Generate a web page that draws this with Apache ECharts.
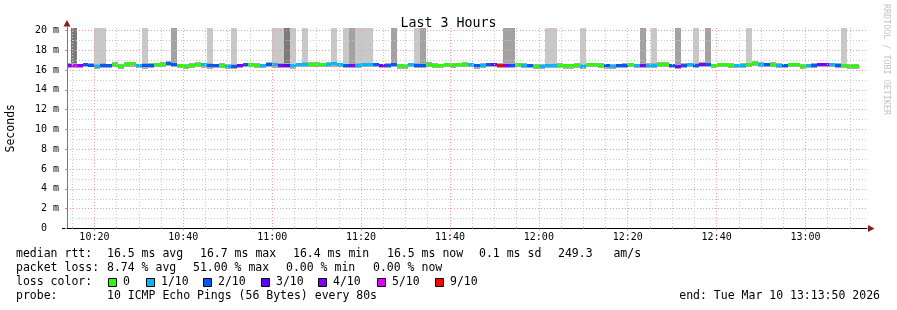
<!DOCTYPE html>
<html><head><meta charset="utf-8">
<script src="https://cdn.jsdelivr.net/npm/echarts@6/dist/echarts.min.js"></script>
<style>html,body{margin:0;padding:0;background:#fff}#c{width:897px;height:310px}</style>
</head><body><div id="c"></div><script>
// time in minutes after 10:00
const xMin = 13 + 50/60, xMax = 193 + 50/60;
const stepStart = 13 + 20/60, stepLen = 80/60;
const majorX = [20,40,60,80,100,120,140,160,180];
const minorX = [15,25,30,35,45,50,55,65,70,75,85,90,95,105,110,115,125,130,135,145,150,155,165,170,175,185,190];
const yMajor = [0,2,4,6,8,10,12,14,16,18,20];
const yMinor = [1,3,5,7,9,11,13,15,17,19];
const yMax = 20.25;

const lossThresh = [0,1,2,3,4,5,9];
const lossColors = ['#26ff00','#00b8ff','#0059ff','#5e00ff','#7e00ff','#dd00ff','#ff0000'];
const lossLabels = ['0','1/10','2/10','3/10','4/10','5/10','9/10'];
const spikeColors = [null,'#c8c8c8','#a2a2a2','#7a7a7a'];

const median = [
16.5,16.5,16.45,16.55,16.5,16.4,16.5,16.45,16.55,16.4,
16.6,16.65,16.45,16.45,16.5,16.55,16.6,16.7,16.6,16.45,
16.4,16.5,16.6,16.55,16.5,16.45,16.5,16.4,16.4,16.45,
16.55,16.55,16.5,16.45,16.6,16.55,16.5,16.5,16.45,16.55,
16.6,16.6,16.6,16.55,16.6,16.62,16.55,16.45,16.45,16.5,
16.55,16.55,16.55,16.45,16.5,16.55,16.45,16.4,16.55,16.5,
16.5,16.6,16.5,16.45,16.55,16.5,16.55,16.6,16.55,16.45,
16.5,16.55,16.55,16.45,16.45,16.5,16.55,16.5,16.45,16.4,
16.4,16.45,16.45,16.5,16.45,16.45,16.5,16.4,16.55,16.55,
16.5,16.45,16.4,16.45,16.5,16.55,16.45,16.5,16.5,16.5,
16.6,16.6,16.45,16.4,16.5,16.55,16.5,16.55,16.6,16.45,
16.55,16.55,16.5,16.45,16.5,16.55,16.7,16.6,16.55,16.6,
16.5,16.45,16.55,16.55,16.4,16.45,16.5,16.55,16.55,16.55,
16.5,16.45,16.4,16.4];
const loss = [
4,5,4,2,2,1,2,2,0,0,
0,0,1,2,2,0,0,2,2,0,
0,0,0,1,2,2,0,1,2,4,
2,0,0,1,2,1,4,3,1,1,
1,0,0,0,1,1,1,2,4,1,
1,1,2,4,2,2,0,0,1,2,
2,0,0,0,0,0,0,0,1,2,
1,2,4,5.1,4,2,0,1,2,0,
1,1,1,0,0,0,0,1,0,0,
0,2,1,2,2,0,1,4,1,1,
0,0,2,4,2,1,2,4,2,0,
0,0,0,1,1,0,0,1,2,0,
1,2,0,0,0,1,2,4,4,1,
2,0,0,0];
const smokeLo = [
16.25,16.2,16.2,16.3,16.3,16.15,16.25,16.2,16.3,16.15,
16.3,16.35,16.2,16.15,16.25,16.3,16.3,16.4,16.3,16.2,
16.15,16.25,16.3,16.25,16.15,16.2,16.25,16.1,16.15,16.2,
16.3,16.3,16.25,16.2,16.3,16.25,16.2,16.2,16.15,16.3,
16.3,16.3,16.35,16.3,16.35,16.3,16.3,16.2,16.2,16.25,
16.3,16.3,16.3,16.2,16.25,16.3,16.15,16.1,16.3,16.2,
16.25,16.35,16.25,16.2,16.3,16.25,16.3,16.3,16.3,16.15,
16.25,16.3,16.3,16.2,16.2,16.25,16.3,16.25,16.2,16.1,
16.15,16.2,16.2,16.25,16.15,16.15,16.25,16.1,16.3,16.3,
16.25,16.15,16.1,16.2,16.2,16.3,16.2,16.25,16.25,16.25,
16.3,16.35,16.2,16.1,16.25,16.3,16.25,16.3,16.35,16.2,
16.3,16.3,16.25,16.2,16.25,16.3,16.45,16.3,16.3,16.35,
16.25,16.2,16.3,16.3,16.1,16.2,16.25,16.3,16.3,16.3,
16.25,16.2,16.15,16.15];
const smokeHi = [
16.7,16.75,16.65,16.75,16.7,16.6,16.7,16.65,16.8,16.6,
16.8,16.85,16.65,16.7,16.7,16.75,16.8,16.9,16.8,16.65,
16.6,16.75,16.8,16.75,16.75,16.65,16.7,16.6,16.65,16.65,
16.75,16.75,16.7,16.65,16.8,16.75,16.7,16.75,16.65,16.75,
16.8,16.8,16.8,16.75,16.8,16.85,16.75,16.65,16.7,16.7,
16.75,16.75,16.75,16.65,16.7,16.8,16.65,16.6,16.75,16.7,
16.75,16.8,16.7,16.65,16.75,16.7,16.75,16.8,16.75,16.65,
16.7,16.75,16.75,16.7,16.7,16.7,16.75,16.7,16.65,16.6,
16.6,16.65,16.65,16.7,16.65,16.65,16.7,16.6,16.75,16.75,
16.7,16.65,16.6,16.65,16.7,16.75,16.65,16.75,16.7,16.7,
16.8,16.8,16.65,16.65,16.7,16.75,16.7,16.8,16.8,16.65,
16.75,16.75,16.7,16.65,16.7,16.75,16.9,16.8,16.75,16.8,
16.7,16.65,16.75,16.75,16.6,16.65,16.7,16.75,16.75,16.75,
16.7,16.65,16.6,16.6];
const spike = [
0,3,0,0,0,1,1,0,0,0,
0,0,0,1,0,0,0,0,2,0,
0,0,0,0,1,0,0,0,1,0,
0,0,0,0,0,1,1,3,1,0,
1,0,0,0,0,1,0,1,2,1,
1,1,0,0,0,2,0,0,0,1,
2,0,0,0,0,0,0,0,0,0,
0,0,0,0,2,2,0,0,0,0,
0,1,1,0,0,0,0,1,0,0,
0,0,0,0,0,0,0,2,0,1,
0,0,0,2,0,0,1,0,2,0,
0,0,0,0,0,1,0,0,0,0,
0,0,0,0,0,0,0,0,0,0,
0,1,0,0];

const statLines = [
  [[16,'median rtt:'],[107,'16.5 ms avg'],[200,'16.7 ms max'],[293,'16.4 ms min'],[387,'16.5 ms now'],[479,'0.1 ms sd'],[558,'249.3   am/s']],
  [[16,'packet loss:'],[107,'8.74 % avg'],[193,'51.00 % max'],[286,'0.00 % min'],[373,'0.00 % now']]
];
const lossLegendX = [108,146,203,261,318,377,435];
const probeText = '10 ICMP Echo Pings (56 Bytes) every 80s';
const endText = 'end: Tue Mar 10 13:13:50 2026';
const MONO = "'DejaVu Sans Mono', monospace";

function lossColor(l){ for (let k=0;k<lossThresh.length;k++){ if (l<=lossThresh[k]) return lossColors[k]; } return lossColors[lossColors.length-1]; }
function stepData(i){ return [Math.max(stepStart+i*stepLen, xMin), stepStart+(i+1)*stepLen]; }

const smokeData = [], medData = [], spikeData = [];
for (let i=0;i<median.length;i++){
  const [a,b] = stepData(i);
  smokeData.push([a,b,smokeLo[i],smokeHi[i]]);
  medData.push([a,b,median[i]-0.15,median[i]+0.15,loss[i]]);
  if (spike[i]) spikeData.push([a,b,smokeHi[i]-0.1,yMax,spike[i]]);
}
function rectRender(colorFn){
  return function(params, api){
    const p0 = api.coord([api.value(0), api.value(3)]);
    const p1 = api.coord([api.value(1), api.value(2)]);
    const x0 = Math.round(p0[0]), x1 = Math.round(p1[0]);
    const y0 = Math.round(p0[1]), y1 = Math.round(p1[1]);
    return {type:'rect', shape:{x:x0,y:y0,width:x1-x0,height:y1-y0}, style:{fill:colorFn(api)}};
  };
}
function fmtTime(v){ const h = 10+Math.floor(v/60); const m = Math.round(v%60); return h+':'+String(m).padStart(2,'0'); }

const dotted = [1,2];
const graphics = [];
statLines.forEach((line,li)=>{ line.forEach(([x,t])=>graphics.push({type:'text',x:x,y:254+li*14,style:{text:t,font:'11.5px '+MONO,fill:'#000',verticalAlign:'middle',textVerticalAlign:'middle'}})); });
graphics.push({type:'text',x:16,y:282,style:{text:'loss color:',font:'11.5px '+MONO,fill:'#000',verticalAlign:'middle',textVerticalAlign:'middle'}});
lossLegendX.forEach((x,k)=>{
  graphics.push({type:'rect',shape:{x:x+0.5,y:278.5,width:8,height:8},style:{fill:lossColors[k],stroke:'#000',lineWidth:1}});
  graphics.push({type:'text',x:x+15,y:282,style:{text:lossLabels[k],font:'11.5px '+MONO,fill:'#000',verticalAlign:'middle',textVerticalAlign:'middle'}});
});
graphics.push({type:'text',x:16,y:296,style:{text:'probe:',font:'11.5px '+MONO,fill:'#000',verticalAlign:'middle',textVerticalAlign:'middle'}});
graphics.push({type:'text',x:107,y:296,style:{text:probeText,font:'11.5px '+MONO,fill:'#000',verticalAlign:'middle',textVerticalAlign:'middle'}});
graphics.push({type:'text',x:880,y:296,style:{text:endText,font:'11.5px '+MONO,fill:'#000',align:'right',textAlign:'right',verticalAlign:'middle',textVerticalAlign:'middle'}});
graphics.push({type:'text',x:886,y:4,rotation:-Math.PI/2,style:{text:'RRDTOOL / TOBI OETIKER',font:'8.4px '+MONO,fill:'#c4c4c4',verticalAlign:'middle',textVerticalAlign:'middle'}});
graphics.push({type:'polygon',shape:{points:[[63.5,26.5],[70.5,26.5],[67,20]]},style:{fill:'#8c1c1c'}});
graphics.push({type:'polygon',shape:{points:[[868,225],[868,232],[874.5,228.5]]},style:{fill:'#8c1c1c'}});
graphics.push({type:'line',shape:{x1:67.5,y1:26,x2:67.5,y2:29},style:{stroke:'#808080',lineWidth:1}});
graphics.push({type:'line',shape:{x1:62,y1:228.5,x2:67,y2:228.5},style:{stroke:'#000',lineWidth:1}});

const chart = echarts.init(document.getElementById('c'), null, {renderer:'canvas'});
chart.setOption({
  animation:false,
  backgroundColor:'#fff',
  title:{text:'Last 3 Hours',left:'center',top:12,textStyle:{fontFamily:MONO,fontSize:13.3,fontWeight:'normal',color:'#000'}},
  grid:{left:67,right:30,top:28,bottom:81.5,containLabel:false,outerBoundsMode:'none'},
  xAxis:[
    {type:'value',min:xMin,max:xMax,z:3,
     axisLine:{show:true,onZero:false,lineStyle:{color:'#000',width:1}},
     axisTick:{show:true,customValues:majorX,length:2,lineStyle:{color:'#f08080'}},
     axisLabel:{customValues:majorX,formatter:fmtTime,fontFamily:MONO,fontSize:10,color:'#000',margin:4},
     splitLine:{show:true,lineStyle:{color:'#f2a0a0',type:dotted,width:1}}},
    {type:'value',min:xMin,max:xMax,z:3,
     axisLine:{show:false},
     axisTick:{show:true,customValues:minorX,length:2,lineStyle:{color:'#c8c8c8'}},
     axisLabel:{show:false},
     splitLine:{show:true,lineStyle:{color:'#c8c8c8',type:dotted,width:1}}}
  ],
  yAxis:[
    {type:'value',min:0,max:yMax,z:3,name:'Seconds',nameLocation:'middle',nameGap:50,
     nameTextStyle:{fontFamily:MONO,fontSize:11.5,color:'#000'},
     axisLine:{show:true,lineStyle:{color:'#787878',width:1}},
     axisTick:{show:true,customValues:yMajor,length:2,lineStyle:{color:'#f08080'}},
     axisLabel:{customValues:yMajor,formatter:v=>v===0?'0  ':(v+' m'),fontFamily:MONO,fontSize:10,color:'#000',margin:8},
     splitLine:{show:true,lineStyle:{color:'#f2a0a0',type:dotted,width:1}}},
    {type:'value',min:0,max:yMax,z:3,
     axisLine:{show:false},
     axisTick:{show:false,customValues:yMinor},
     axisLabel:{show:false},
     splitLine:{show:true,lineStyle:{color:'#c8c8c8',type:dotted,width:1}}}
  ],
  series:[
    {type:'custom',name:'spikes',z:1,xAxisIndex:0,yAxisIndex:0,data:spikeData,encode:{x:[0,1],y:[2,3]},
     renderItem:rectRender(api=>spikeColors[api.value(4)])},
    {type:'custom',name:'smoke',z:1,xAxisIndex:0,yAxisIndex:0,data:smokeData,encode:{x:[0,1],y:[2,3]},
     renderItem:rectRender(api=>'#aaaaaa')},
    {type:'custom',name:'median',z:1,xAxisIndex:0,yAxisIndex:0,data:medData,encode:{x:[0,1],y:[2,3]},
     renderItem:rectRender(api=>lossColor(api.value(4)))}
  ],
  graphic:graphics
});
</script></body></html>
